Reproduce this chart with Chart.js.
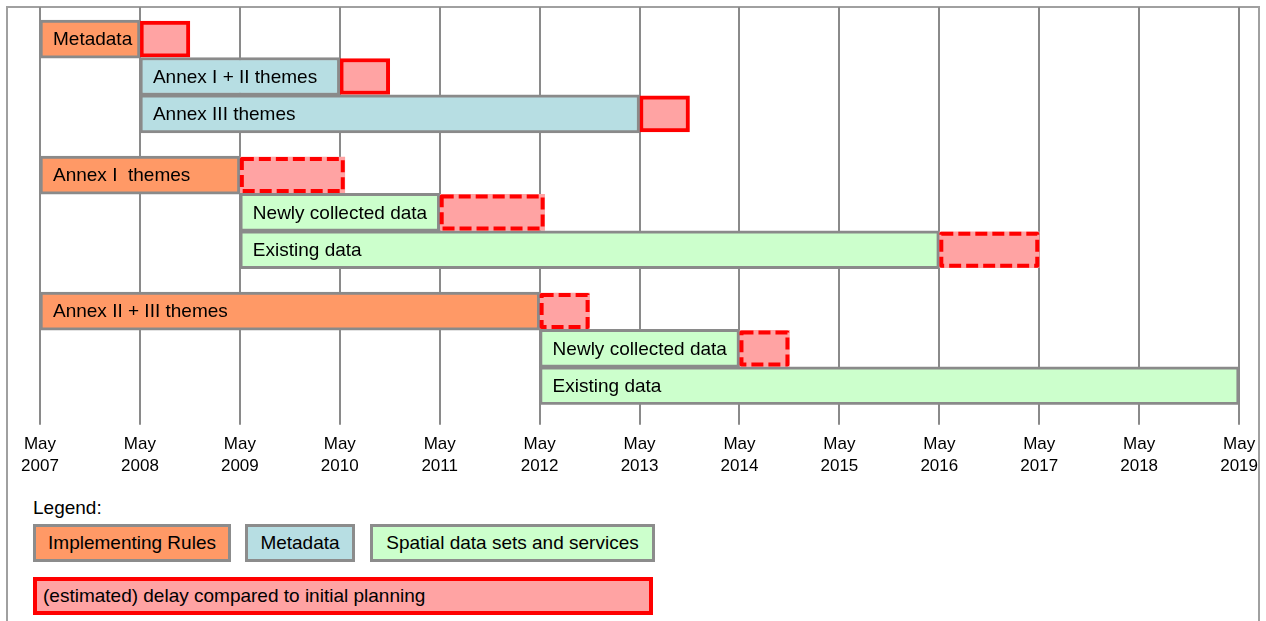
<!DOCTYPE html>
<html>
<head>
<meta charset="utf-8">
<title>INSPIRE roadmap</title>
<script src="https://cdn.jsdelivr.net/npm/chart.js@4.4.1/dist/chart.umd.min.js"></script>
<style>
  html, body { margin: 0; padding: 0; background: #fff; width: 1266px; height: 621px; overflow: hidden;
               font-family: 'Liberation Sans', Arial, sans-serif; color: #000; }
  .frame { position: absolute; left: 6px; top: 6px; width: 1254px; height: 700px;
           border: 2px solid #a0a0a0; border-bottom: none; box-sizing: border-box; }
  .chart-wrap { position: absolute; left: 0; top: 0; width: 1266px; height: 487px; }
  .legend-title { position: absolute; left: 33px; top: 497px; font-size: 19px; }
  .lg { position: absolute; box-sizing: border-box; top: 524px; height: 38px; border: 3px solid #8c8c8c;
        font-size: 19px; line-height: 32px; text-align: center; white-space: nowrap; }
  .lg.delay { top: 577px; height: 38px; border: 4px solid #ff0000; text-align: left; padding-left: 6px; line-height: 30px; }
</style>
</head>
<body>
<div class="frame"></div>
<div class="chart-wrap"><canvas id="roadmap"></canvas></div>
<div id="legend"></div>

<script>
/* ── DATA ── */
const rowLabels = ['Metadata', 'Annex I + II themes', 'Annex III themes',
                   'Annex I  themes', 'Newly collected data', 'Existing data',
                   'Annex II + III themes', 'Newly collected data', 'Existing data'];
const rowKinds  = ['rules', 'meta', 'meta', 'rules', 'data', 'data', 'rules', 'data', 'data'];
const rowGroups = [0, 0, 0, 1, 1, 1, 2, 2, 2];
const plannedStart = [2007, 2008, 2008, 2007, 2009, 2009, 2007, 2012, 2012];
const plannedEnd   = [2008, 2010, 2013, 2009, 2011, 2016, 2012, 2014, 2019];
const delayEnd     = [2008.5, 2010.5, 2013.5, 2010.05, 2012.05, 2017, 2012.5, 2014.5, null];
const delayIsEstimate = [false, false, false, true, true, true, true, true, false];
const yearTicks = [2007, 2008, 2009, 2010, 2011, 2012, 2013, 2014, 2015, 2016, 2017, 2018, 2019];

const kindNames  = { rules: 'Implementing Rules', meta: 'Metadata', data: 'Spatial data sets and services' };
const kindColors = { rules: '#ff9966', meta: '#b7dee3', data: '#ccffcc' };
const DELAY_FILL = '#ffa3a3';
const RED = '#ff0000';
const GREY = '#8a8a8a';
const FONT = "'Liberation Sans', Arial, sans-serif";

// ── LAYOUT HELPERS ──
const GROUP_GAP = 0.64;
function rowPos(i) { return i + rowGroups[i] * GROUP_GAP; }

function mainData(kind) {
  return rowLabels.map((name, i) => i)
    .filter(i => rowKinds[i] === kind)
    .map(i => ({ x: [plannedStart[i], plannedEnd[i]], y: rowPos(i), name: rowLabels[i] }));
}
function delayData(estimated) {
  return rowLabels.map((name, i) => i)
    .filter(i => delayEnd[i] !== null && delayIsEstimate[i] === estimated)
    .map(i => ({ x: [plannedEnd[i], delayEnd[i]], y: rowPos(i) }));
}

// ── PLUGIN: dashed outlines + bar captions ──
const barDecor = {
  id: 'barDecor',
  afterDatasetsDraw(chart) {
    const ctx = chart.ctx;
    const area = chart.chartArea;
    ctx.save();
    ctx.beginPath();
    ctx.rect(area.left, area.top, area.right - area.left, area.bottom - area.top);
    ctx.clip();

    // estimated delays: dashed red outline
    const est = chart.getDatasetMeta(4);
    ctx.strokeStyle = RED;
    ctx.lineWidth = 4;
    ctx.lineJoin = 'round';
    ctx.setLineDash([12, 5]);
    est.data.forEach(el => {
      const { x, base, y, height } = el.getProps(['x', 'base', 'y', 'height'], true);
      const l = Math.min(x, base), w = Math.abs(x - base);
      ctx.strokeRect(l + 2, y - height / 2 + 2, w - 4, height - 4);
    });
    ctx.setLineDash([]);

    // captions inside planned bars
    ctx.fillStyle = '#000';
    ctx.font = '19px ' + FONT;
    ctx.textBaseline = 'middle';
    ctx.textAlign = 'left';
    [0, 1, 2].forEach(d => {
      const meta = chart.getDatasetMeta(d);
      meta.data.forEach((el, j) => {
        const { x, base, y } = el.getProps(['x', 'base', 'y'], true);
        ctx.fillText(chart.data.datasets[d].data[j].name, Math.min(x, base) + 13, y + 1);
      });
    });
    ctx.restore();
  }
};

// ── CHART ──
const kinds = ['rules', 'meta', 'data'];
const datasets = kinds.map(k => ({
  label: kindNames[k],
  data: mainData(k),
  backgroundColor: kindColors[k],
  borderColor: GREY,
  borderWidth: 3,
  borderSkipped: false,
  barThickness: 38,
  grouped: false
}));
datasets.push({
  label: 'delay',
  data: delayData(false),
  backgroundColor: DELAY_FILL,
  borderColor: RED,
  borderWidth: 4,
  borderSkipped: false,
  barThickness: 36,
  grouped: false
});
datasets.push({
  label: 'estimated delay',
  data: delayData(true),
  backgroundColor: DELAY_FILL,
  borderWidth: 0,
  borderSkipped: false,
  barThickness: 36,
  grouped: false
});

new Chart(document.getElementById('roadmap'), {
  type: 'bar',
  data: { datasets },
  plugins: [barDecor],
  options: {
    indexAxis: 'y',
    responsive: true,
    maintainAspectRatio: false,
    animation: false,
    layout: { padding: { left: 40, right: 25, top: 7, bottom: 2 } },
    plugins: { legend: { display: false }, tooltip: { enabled: false } },
    scales: {
      y: {
        type: 'linear',
        reverse: true,
        min: -0.86,
        max: 9.79,
        offset: false,
        display: false
      },
      x: {
        type: 'linear',
        min: yearTicks[0],
        max: yearTicks[yearTicks.length - 1],
        offset: false,
        afterBuildTicks: scale => { scale.ticks = yearTicks.map(v => ({ value: v })); },
        border: { display: false },
        grid: { color: GREY, lineWidth: 2, tickLength: 20, offset: false },
        ticks: {
          autoSkip: false,
          maxRotation: 0,
          padding: 8,
          color: '#000',
          font: { family: FONT, size: 17, lineHeight: 1.3 },
          callback: v => ['May', String(v)]
        }
      }
    }
  }
});

// ── LEGEND ──
const legendBoxes = [
  { text: kindNames.rules, color: kindColors.rules, left: 33, width: 198 },
  { text: kindNames.meta,  color: kindColors.meta,  left: 245, width: 110 },
  { text: kindNames.data,  color: kindColors.data,  left: 370, width: 285 }
];
const legendEl = document.getElementById('legend');
legendEl.innerHTML = '<div class="legend-title">Legend:</div>' +
  legendBoxes.map(b =>
    `<div class="lg" style="left:${b.left}px;width:${b.width}px;background:${b.color};">${b.text}</div>`
  ).join('') +
  `<div class="lg delay" style="left:33px;width:620px;background:${DELAY_FILL};">(estimated) delay compared to initial planning</div>`;
</script>
</body>
</html>
